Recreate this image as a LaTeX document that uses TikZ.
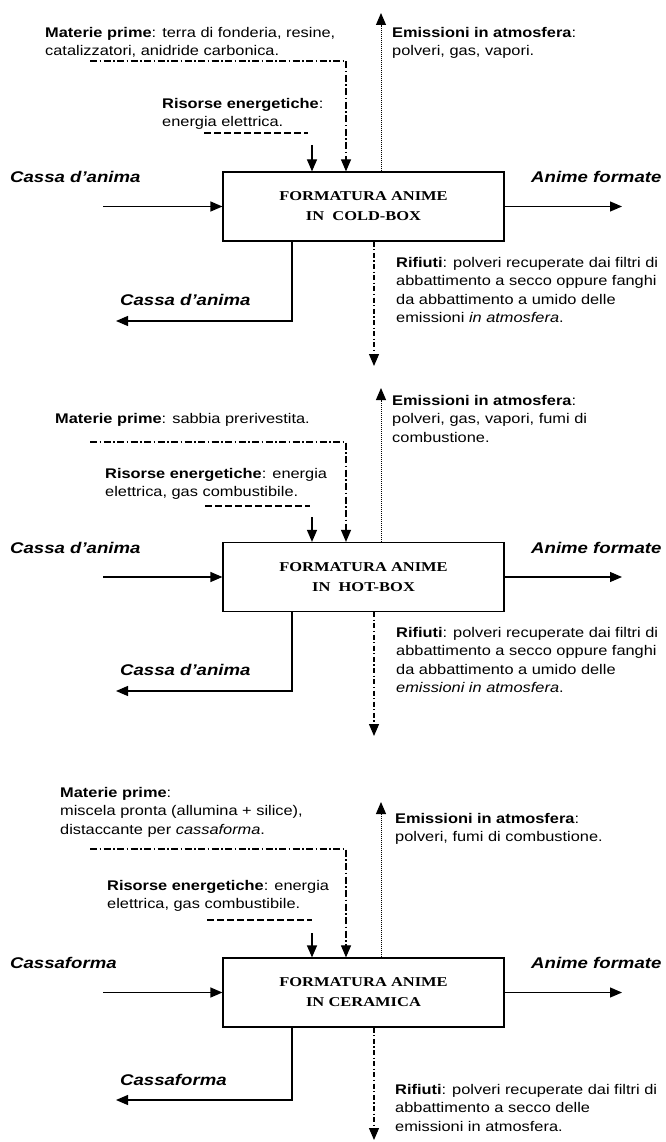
\documentclass[tikz,border=0pt]{standalone}
\usepackage{fontspec}
\setmainfont{Liberation Sans}[FakeStretch=1.17]
\newfontfamily\labelfont{Liberation Sans}[FakeStretch=1.2]
\newfontfamily\boxfont{Liberation Serif}[FakeStretch=1.22]
\usetikzlibrary{arrows.meta}

\tikzset{
  tip/.style={-{Triangle[length=12pt,width=10pt]}},
  flow/.style={line width=1.2pt, tip},
  proc/.style={draw, line width=1.2pt, minimum width=281pt, minimum height=69pt,
    inner sep=0pt, align=center,
    font=\boxfont\bfseries\fontsize{13.5}{20}\selectfont},
  txt/.style={anchor=north west, inner sep=0pt, align=left,
    font=\fontsize{14}{18.5}\selectfont},
  lbl/.style={anchor=west, inner sep=0pt,
    font=\labelfont\bfseries\itshape\fontsize{15.5}{18}\selectfont},
  matline/.style={line width=1.1pt, dash pattern=on 7pt off 2.5pt on 1.5pt off 2.5pt},
  enline/.style={line width=1.1pt, dash pattern=on 7pt off 3pt},
  emline/.style={line width=1pt, dash pattern=on 1pt off 1pt},
  wasteline/.style={line width=1.1pt, dash pattern=on 5pt off 2.5pt on 1.2pt off 2.5pt}
}

\begin{document}
\begin{tikzpicture}[x=1pt,y=-1pt]
\fill[white] (0,0) rectangle (665,1142);
\useasboundingbox (0,0) rectangle (665,1142);

% ---------------- cold-box ----------------
\node[proc] (box1) at (363.5,206.5) {FORMATURA ANIME\\IN\ \ COLD-BOX};

\node[txt] (mat1) at (45,27) {\textbf{Materie prime}: terra di fonderia, resine,\\catalizzatori, anidride carbonica.};
\node[txt] (ris1) at (162,98) {\textbf{Risorse energetiche}:\\energia elettrica.};
\node[txt] (emi1) at (392,27) {\textbf{Emissioni in atmosfera}:\\polveri, gas, vapori.};
\node[txt] (rif1) at (396,257) {\textbf{Rifiuti}: polveri recuperate dai filtri di\\abbattimento a secco oppure fanghi\\da abbattimento a umido delle\\emissioni \textit{in atmosfera}.};
\node[lbl] (in1) at (10,177) {Cassa d’anima};
\node[lbl] (out1) at (531,177) {Anime formate};
\node[lbl] (ret1) at (120,300) {Cassa d’anima};

\coordinate (m1a) at (90,61);
\coordinate (m1c) at (346,61);
\draw[matline, tip] (m1a) -- (m1c) -- (m1c |- box1.north);
\coordinate (d1a) at (204,133);
\coordinate (d1b) at (308,133);
\draw[enline] (d1a) -- (d1b);
\coordinate (e1) at (312,145);
\draw[flow] (e1) -- (e1 |- box1.north);
\coordinate (em1) at (381,13);
\draw[emline, tip] (em1 |- box1.north) -- (em1);
\coordinate (s1in) at (103,206.5);
\draw[flow] (s1in) -- (box1.west);
\coordinate (s1out) at (622,206.5);
\draw[flow] (box1.east) -- (s1out);
\coordinate (r1c) at (292,321);
\coordinate (r1) at (116,321);
\draw[flow] (r1c |- box1.south) -- (r1c) -- (r1);
\coordinate (w1) at (374,366);
\draw[wasteline, tip] (w1 |- box1.south) -- (w1);

% ---------------- hot-box ----------------
\node[proc] (box2) at (363.5,577) {FORMATURA ANIME\\IN\ \ HOT-BOX};

\node[txt] (mat2) at (55,413) {\textbf{Materie prime}: sabbia prerivestita.};
\node[txt] (ris2) at (105,468) {\textbf{Risorse energetiche}: energia\\elettrica, gas combustibile.};
\node[txt] (emi2) at (392,395) {\textbf{Emissioni in atmosfera}:\\polveri, gas, vapori, fumi di\\combustione.};
\node[txt] (rif2) at (396,627) {\textbf{Rifiuti}: polveri recuperate dai filtri di\\abbattimento a secco oppure fanghi\\da abbattimento a umido delle\\\textit{emissioni in atmosfera}.};
\node[lbl] (in2) at (10,548) {Cassa d’anima};
\node[lbl] (out2) at (531,548) {Anime formate};
\node[lbl] (ret2) at (120,670) {Cassa d’anima};

\coordinate (m2a) at (90,442);
\coordinate (m2c) at (346,442);
\draw[matline, tip] (m2a) -- (m2c) -- (m2c |- box2.north);
\coordinate (d2a) at (205,506);
\coordinate (d2b) at (310,506);
\draw[enline] (d2a) -- (d2b);
\coordinate (e2) at (312,517);
\draw[flow] (e2) -- (e2 |- box2.north);
\coordinate (em2) at (381,388);
\draw[emline, tip] (em2 |- box2.north) -- (em2);
\coordinate (s2in) at (103,577);
\draw[flow] (s2in) -- (box2.west);
\coordinate (s2out) at (622,577);
\draw[flow] (box2.east) -- (s2out);
\coordinate (r2c) at (292,691);
\coordinate (r2) at (116,691);
\draw[flow] (r2c |- box2.south) -- (r2c) -- (r2);
\coordinate (w2) at (374,736);
\draw[wasteline, tip] (w2 |- box2.south) -- (w2);

% ---------------- ceramica ----------------
\node[proc] (box3) at (363.5,992.5) {FORMATURA ANIME\\IN CERAMICA};

\node[txt] (mat3) at (60,787) {\textbf{Materie prime}:\\miscela pronta (allumina + silice),\\distaccante per \textit{cassaforma}.};
\node[txt] (ris3) at (107,880) {\textbf{Risorse energetiche}: energia\\elettrica, gas combustibile.};
\node[txt] (emi3) at (395,813) {\textbf{Emissioni in atmosfera}:\\polveri, fumi di combustione.};
\node[txt] (rif3) at (395,1084) {\textbf{Rifiuti}: polveri recuperate dai filtri di\\abbattimento a secco delle\\emissioni in atmosfera.};
\node[lbl] (in3) at (10,963) {Cassaforma};
\node[lbl] (out3) at (531,963) {Anime formate};
\node[lbl] (ret3) at (120,1080) {Cassaforma};

\coordinate (m3a) at (90,849);
\coordinate (m3c) at (346,849);
\draw[matline, tip] (m3a) -- (m3c) -- (m3c |- box3.north);
\coordinate (d3a) at (207,920);
\coordinate (d3b) at (312,920);
\draw[enline] (d3a) -- (d3b);
\coordinate (e3) at (312,933);
\draw[flow] (e3) -- (e3 |- box3.north);
\coordinate (em3) at (381,802);
\draw[emline, tip] (em3 |- box3.north) -- (em3);
\coordinate (s3in) at (103,992.5);
\draw[flow] (s3in) -- (box3.west);
\coordinate (s3out) at (622,992.5);
\draw[flow] (box3.east) -- (s3out);
\coordinate (r3c) at (292,1100);
\coordinate (r3) at (116,1100);
\draw[flow] (r3c |- box3.south) -- (r3c) -- (r3);
\coordinate (w3) at (374,1140);
\draw[wasteline, tip] (w3 |- box3.south) -- (w3);
\end{tikzpicture}
\end{document}
